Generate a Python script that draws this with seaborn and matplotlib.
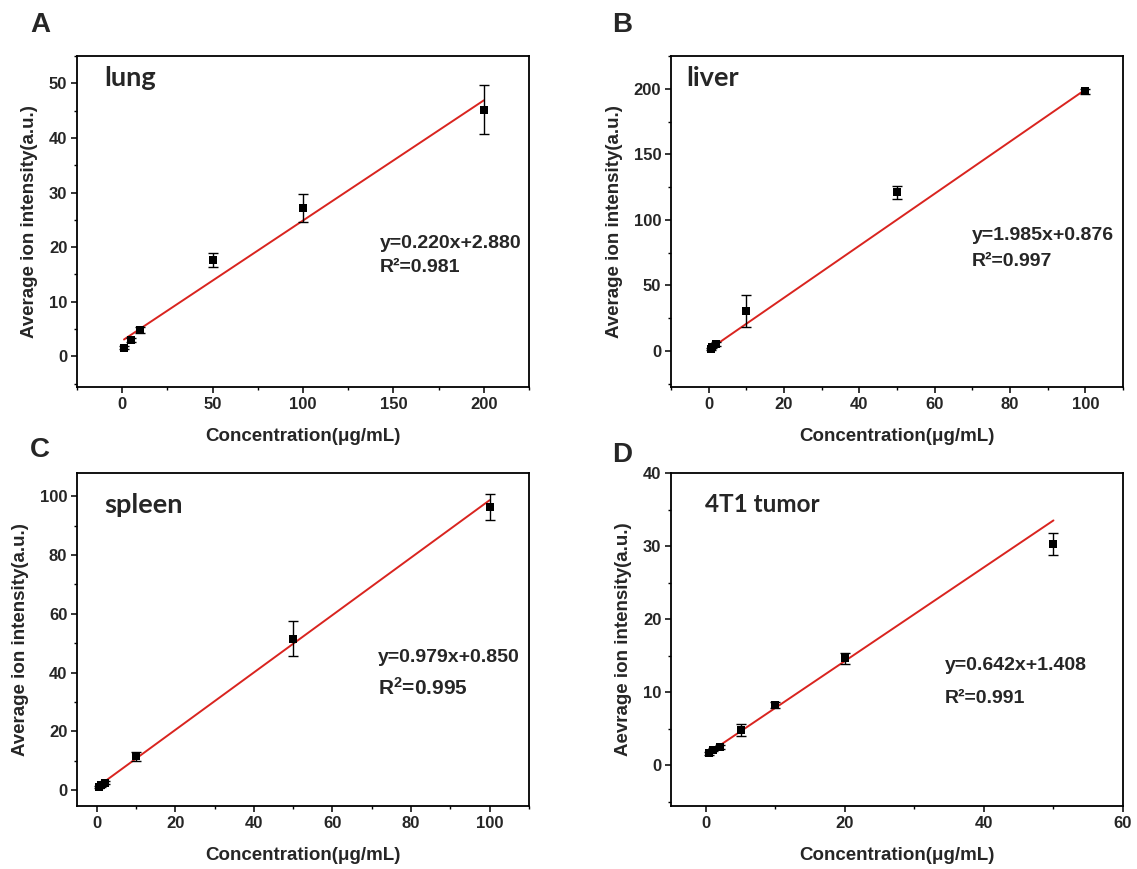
import numpy as np
import pandas as pd
import matplotlib
matplotlib.use("Agg")
import matplotlib.pyplot as plt
from matplotlib.ticker import MultipleLocator
import seaborn as sns

# ---------------- data ----------------
lung_conc = [1, 5, 10, 50, 100, 200]
lung_mean = [1.6, 3.0, 4.8, 17.6, 27.2, 45.2]
lung_err = [0.3, 0.3, 0.5, 1.3, 2.6, 4.5]
lung_fit = (0.220, 2.880)

liver_conc = [0.5, 1, 2, 10, 50, 100]
liver_mean = [1.5, 3.0, 5.5, 30.5, 121.0, 198.0]
liver_err = [1.0, 1.0, 1.5, 12.5, 5.0, 2.0]
liver_fit = (1.985, 0.876)

spleen_conc = [0.5, 1, 2, 10, 50, 100]
spleen_mean = [1.0, 1.5, 2.5, 11.5, 51.5, 96.5]
spleen_err = [0.3, 0.4, 0.5, 1.5, 6.0, 4.5]
spleen_fit = (0.979, 0.850)

tumor_conc = [0.5, 1, 2, 5, 10, 20, 50]
tumor_mean = [1.6, 2.1, 2.5, 4.8, 8.2, 14.6, 30.3]
tumor_err = [0.2, 0.2, 0.3, 0.8, 0.4, 0.8, 1.5]
tumor_fit = (0.642, 1.408)

panel_letters = ["A", "B", "C", "D"]
organ_labels = ["lung", "liver", "spleen", "4T1 tumor"]
eq_texts = ["y=0.220x+2.880", "y=1.985x+0.876", "y=0.979x+0.850", "y=0.642x+1.408"]
r2_texts = ["R\u00b2=0.981", "R\u00b2=0.997", "R$^{\\mathbf{2}}$=0.995", "R\u00b2=0.991"]
ylabels = ["Average ion intensity(a.u.)", "Average ion intensity(a.u.)",
           "Average ion intensity(a.u.)", "Aevrage ion intensity(a.u.)"]
xlabel = "Concentration(\u03bcg/mL)"

# ---------------- style ----------------
sns.set_theme(style="ticks")
plt.rcParams["font.family"] = ["Liberation Sans", "DejaVu Sans"]
plt.rcParams["font.weight"] = "bold"
plt.rcParams["mathtext.fontset"] = "custom"
plt.rcParams["mathtext.rm"] = "Liberation Sans:bold"
plt.rcParams["mathtext.bf"] = "Liberation Sans:bold"
plt.rcParams["mathtext.it"] = "Liberation Sans:bold"

W, H = 1137, 869
fig = plt.figure(figsize=(W / 100, H / 100), dpi=100)

def frac(l, t, r, b):
    return [l / W, 1 - b / H, (r - l) / W, (b - t) / H]

axes_px = [(77, 56, 529, 387), (671, 56, 1123, 387),
           (77, 473, 529, 806), (671, 473, 1123, 806)]

datasets = [
    (lung_conc, lung_mean, lung_err, lung_fit),
    (liver_conc, liver_mean, liver_err, liver_fit),
    (spleen_conc, spleen_mean, spleen_err, spleen_fit),
    (tumor_conc, tumor_mean, tumor_err, tumor_fit),
]
xlims = [(-25, 225), (-10, 110), (-5, 110), (-5, 60)]
ylims = [(-5.6, 55), (-27.5, 225), (-5.5, 108), (-5.6, 40)]
xmajor = [50, 20, 20, 20]
ymajor = [10, 50, 20, 10]
eq_pos = [(0.670, 0.435, 0.360), (0.666, 0.459, 0.378),
          (0.666, 0.447, 0.354), (0.606, 0.423, 0.324)]
organ_pos = [(0.060, 0.935), (0.033, 0.935), (0.060, 0.905), (0.075, 0.905)]
organ_size = [19.5, 19.5, 19.5, 17.5]
letter_px = [(40, 25), (622, 25), (40, 450), (622, 455)]

red = "#d9241f"

for i, (conc, mean, err, fit) in enumerate(datasets):
    ax = fig.add_axes(frac(*axes_px[i]))
    df = pd.DataFrame({"conc": conc, "mean": mean, "err": err})
    # fitted line from the printed equation
    xs = np.array([conc[0], conc[-1]], dtype=float)
    fit_df = pd.DataFrame({"x": xs, "y": fit[0] * xs + fit[1]})
    sns.lineplot(data=fit_df, x="x", y="y", ax=ax, color=red, lw=1.4, zorder=2)
    ax.errorbar(df["conc"], df["mean"], yerr=df["err"], fmt="none",
                ecolor="black", elinewidth=1.0, capsize=3.5, capthick=1.0, zorder=3)
    sns.scatterplot(data=df, x="conc", y="mean", ax=ax, marker="s", s=40,
                    color="black", edgecolor="black", linewidth=0, zorder=4)

    ax.set_xlim(*xlims[i])
    ax.set_ylim(*ylims[i])
    ax.xaxis.set_major_locator(MultipleLocator(xmajor[i]))
    ax.xaxis.set_minor_locator(MultipleLocator(xmajor[i] / 2))
    ax.yaxis.set_major_locator(MultipleLocator(ymajor[i]))
    ax.yaxis.set_minor_locator(MultipleLocator(ymajor[i] / 2))
    ax.tick_params(which="major", direction="out", length=4, width=1.1,
                   labelsize=12, pad=3, color="black")
    ax.tick_params(which="minor", direction="out", length=2.5, width=1.0, color="black")
    for lab in ax.get_xticklabels() + ax.get_yticklabels():
        lab.set_fontweight("bold")
    for sp in ax.spines.values():
        sp.set_visible(True)
        sp.set_linewidth(1.3)
        sp.set_color("black")

    ax.set_xlabel(xlabel, fontsize=13.5, fontweight="bold", labelpad=12)
    ax.set_ylabel(ylabels[i], fontsize=13.5, fontweight="bold", labelpad=8)

    ex, ey1, ey2 = eq_pos[i]
    ax.text(ex, ey1, eq_texts[i], transform=ax.transAxes, fontsize=14,
            fontweight="bold", va="center", ha="left")
    r2size = 15 if i == 2 else 14
    ax.text(ex, ey2, r2_texts[i], transform=ax.transAxes, fontsize=r2size,
            fontweight="bold", va="center", ha="left")

    ox, oy = organ_pos[i]
    ax.text(ox, oy, organ_labels[i], transform=ax.transAxes, fontsize=organ_size[i],
            fontweight="bold", va="center", ha="left", family=["Lato", "DejaVu Sans"])

    lx, ly = letter_px[i]
    fig.text(lx / W, 1 - ly / H, panel_letters[i], fontsize=20, fontweight="bold",
             va="center", ha="center")

fig.savefig("out.png", dpi=100, facecolor="white")
